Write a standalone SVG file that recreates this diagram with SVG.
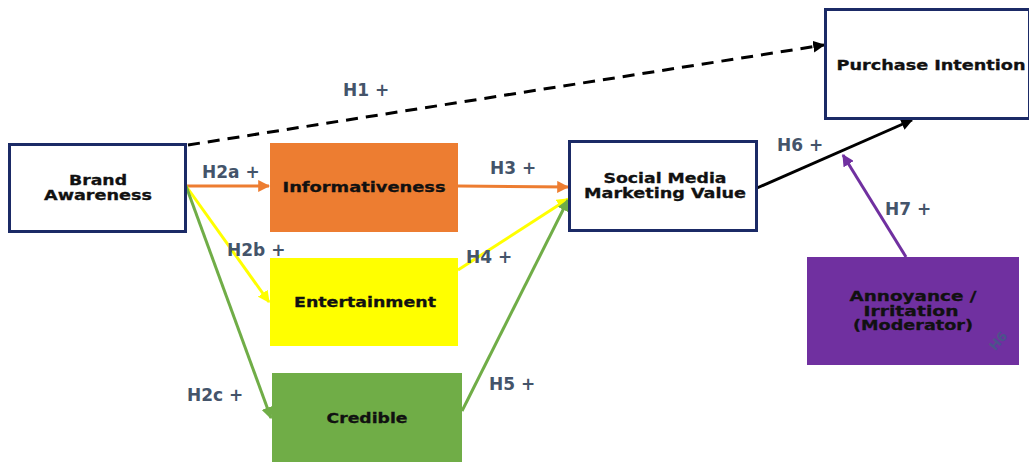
<svg xmlns="http://www.w3.org/2000/svg" width="1029" height="464" viewBox="0 0 1029 464">
  <style>
    .box { stroke: #1b2a66; stroke-width: 3; fill: #ffffff; }
    .name { font-family: "DejaVu Sans", Verdana, sans-serif; font-weight: bold; font-size: 14px; fill: #111111; text-anchor: middle; stroke: #111111; stroke-width: 0.3; }
    .hyp { font-family: "DejaVu Sans", Verdana, sans-serif; font-weight: bold; font-size: 17px; fill: #44546a; }
    .link { fill: none; stroke-width: 3; }
  </style>
  <defs>
    <marker id="ahBlack" viewBox="0 0 10 10" refX="9" refY="5" markerWidth="4" markerHeight="4" orient="auto" markerUnits="strokeWidth">
      <path d="M0,0 L10,5 L0,10 z" fill="#000000"/>
    </marker>
    <marker id="ahOrange" viewBox="0 0 10 10" refX="9" refY="5" markerWidth="4" markerHeight="4" orient="auto" markerUnits="strokeWidth">
      <path d="M0,0 L10,5 L0,10 z" fill="#ed7d31"/>
    </marker>
    <marker id="ahYellow" viewBox="0 0 10 10" refX="9" refY="5" markerWidth="4" markerHeight="4" orient="auto" markerUnits="strokeWidth">
      <path d="M0,0 L10,5 L0,10 z" fill="#ffff00"/>
    </marker>
    <marker id="ahGreen" viewBox="0 0 10 10" refX="9" refY="5" markerWidth="4" markerHeight="4" orient="auto" markerUnits="strokeWidth">
      <path d="M0,0 L10,5 L0,10 z" fill="#70ad47"/>
    </marker>
    <marker id="ahPurple" viewBox="0 0 10 10" refX="9" refY="5" markerWidth="4" markerHeight="4" orient="auto" markerUnits="strokeWidth">
      <path d="M0,0 L10,5 L0,10 z" fill="#7030a0"/>
    </marker>
  </defs>

  <rect width="1029" height="464" fill="#ffffff"/>

  <!-- connectors -->
  <g id="connectors">
    <line class="link" x1="188" y1="145" x2="824" y2="45" stroke="#000000" stroke-dasharray="12,8" marker-end="url(#ahBlack)"/>
    <line class="link" x1="186" y1="186" x2="269" y2="186" stroke="#ed7d31" marker-end="url(#ahOrange)"/>
    <line class="link" x1="186" y1="186" x2="269" y2="302" stroke="#ffff00" marker-end="url(#ahYellow)"/>
    <line class="link" x1="186" y1="186" x2="271" y2="418" stroke="#70ad47" marker-end="url(#ahGreen)"/>
    <line class="link" x1="458" y1="186" x2="568" y2="187" stroke="#ed7d31" marker-end="url(#ahOrange)"/>
    <line class="link" x1="458" y1="270" x2="568" y2="199" stroke="#ffff00" marker-end="url(#ahYellow)"/>
    <line class="link" x1="462" y1="411" x2="568" y2="200" stroke="#70ad47" marker-end="url(#ahGreen)"/>
    <line class="link" x1="757" y1="188" x2="912" y2="120" stroke="#000000" marker-end="url(#ahBlack)"/>
    <line class="link" x1="906" y1="257" x2="843" y2="155" stroke="#7030a0" marker-end="url(#ahPurple)"/>

    <text class="hyp" x="343" y="96">H1 +</text>
    <text class="hyp" x="202" y="178">H2a +</text>
    <text class="hyp" x="227" y="256">H2b +</text>
    <text class="hyp" x="187" y="401">H2c +</text>
    <text class="hyp" x="490" y="174">H3 +</text>
    <text class="hyp" x="466" y="263">H4 +</text>
    <text class="hyp" x="489" y="390">H5 +</text>
    <text class="hyp" x="777" y="151">H6 +</text>
    <text class="hyp" x="885" y="215">H7 +</text>
  </g>

  <g id="brand-awareness">
    <rect class="box" x="9.5" y="144.5" width="176" height="87"/>
    <text class="name" x="98" y="185" textLength="58" lengthAdjust="spacingAndGlyphs">Brand</text>
    <text class="name" x="98" y="200" textLength="108" lengthAdjust="spacingAndGlyphs">Awareness</text>
  </g>

  <g id="informativeness">
    <rect x="270" y="143" width="188" height="89" fill="#ed7d31"/>
    <text class="name" x="364" y="192" textLength="163" lengthAdjust="spacingAndGlyphs">Informativeness</text>
  </g>

  <g id="entertainment">
    <rect x="270" y="258" width="188" height="88" fill="#ffff00"/>
    <text class="name" x="365" y="307" textLength="142" lengthAdjust="spacingAndGlyphs">Entertainment</text>
  </g>

  <g id="credible">
    <rect x="272" y="373" width="190" height="89" fill="#70ad47"/>
    <text class="name" x="367" y="423" textLength="81" lengthAdjust="spacingAndGlyphs">Credible</text>
  </g>

  <g id="social-media-marketing-value">
    <rect class="box" x="569.5" y="141.5" width="187" height="89"/>
    <text class="name" x="665" y="183" textLength="123" lengthAdjust="spacingAndGlyphs">Social Media</text>
    <text class="name" x="665" y="198" textLength="162" lengthAdjust="spacingAndGlyphs">Marketing Value</text>
  </g>

  <g id="purchase-intention">
    <rect class="box" x="825.5" y="9.5" width="204" height="109"/>
    <text class="name" x="931" y="70" textLength="189" lengthAdjust="spacingAndGlyphs">Purchase Intention</text>
  </g>

  <g id="annoyance-irritation">
    <rect x="807" y="257" width="212" height="108" fill="#7030a0"/>
    <text class="name" x="913" y="301" textLength="127" lengthAdjust="spacingAndGlyphs">Annoyance /</text>
    <text class="name" x="911" y="316" textLength="95" lengthAdjust="spacingAndGlyphs">Irritation</text>
    <text class="name" x="913" y="330" textLength="120" lengthAdjust="spacingAndGlyphs">(Moderator)</text>
    <text x="997" y="346" transform="rotate(-50 997 340)" font-family="'DejaVu Sans', Verdana, sans-serif" font-weight="bold" font-size="13" fill="#2f6f7a" opacity="0.55" text-anchor="middle">H6</text>
  </g>
</svg>
